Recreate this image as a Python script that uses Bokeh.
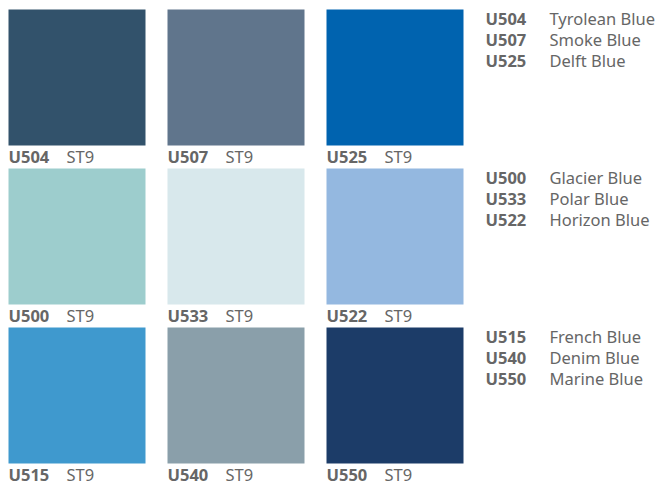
from bokeh.plotting import figure
from bokeh.models import ColumnDataSource, Range1d
from bokeh.core.properties import value
from bokeh.embed import file_html
from bokeh.resources import INLINE

codes = ["U504", "U507", "U525", "U500", "U533", "U522", "U515", "U540", "U550"]
names = ["Tyrolean Blue", "Smoke Blue", "Delft Blue", "Glacier Blue", "Polar Blue",
         "Horizon Blue", "French Blue", "Denim Blue", "Marine Blue"]
colors = ["#32526B", "#60758C", "#0063AF", "#9DCDCD", "#D8E8EC", "#94B8E0",
          "#3F99CE", "#8A9FAA", "#1C3C68"]
grade = ["ST9"] * 9

W, H = 659, 481
STEP = 159
SW_W, SW_H = 137, 136
X0, Y0 = 8, 9
TXT = "#666666"
FONT = "Noto Sans"

cols = [i % 3 for i in range(9)]
rows = [i // 3 for i in range(9)]

sw = ColumnDataSource(dict(
    left=[X0 + c * STEP for c in cols],
    right=[X0 + c * STEP + SW_W for c in cols],
    top=[Y0 + r * STEP for r in rows],
    bottom=[Y0 + r * STEP + SW_H for r in rows],
    color=colors,
    code=codes,
    grade=grade,
    lx=[X0 + c * STEP for c in cols],
    gx=[X0 + c * STEP + 58 for c in cols],
    ly=[Y0 + r * STEP + SW_H + 11 for r in rows],
    name=names,
    rx=[485] * 9,
    nx=[549] * 9,
    ry=[18 + r * STEP + (i % 3) * 21 for i, r in enumerate(rows)],
))

p = figure(width=W, height=H, output_backend="svg", toolbar_location=None,
           x_range=Range1d(0, W), y_range=Range1d(H, 0),
           min_border=0, min_border_left=0, min_border_right=0,
           min_border_top=0, min_border_bottom=0)
p.axis.visible = False
p.grid.visible = False
p.outline_line_color = None
p.background_fill_color = "white"
p.border_fill_color = "white"

p.quad(left="left", right="right", top="top", bottom="bottom", source=sw,
       fill_color="color", line_color=None)

kw = dict(source=sw, text_color=TXT, text_font=value(FONT), text_font_size="16.5px",
          text_baseline="middle", text_align="left")
p.text(x="lx", y="ly", text="code", text_font_style="bold", **kw)
p.text(x="gx", y="ly", text="grade", **kw)
p.text(x="rx", y="ry", text="code", text_font_style="bold", **kw)
p.text(x="nx", y="ry", text="name", **kw)

open("out.html", "w").write(file_html(p, INLINE))
